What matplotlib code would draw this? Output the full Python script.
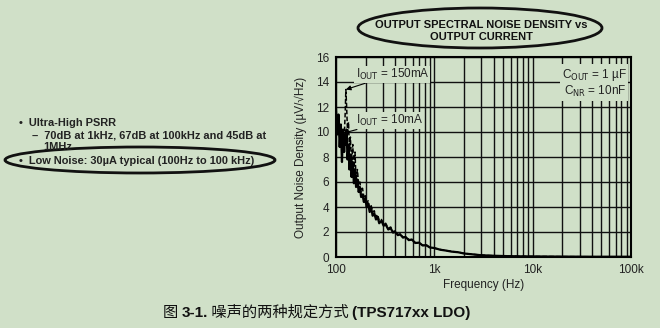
import matplotlib
matplotlib.use("Agg")
import matplotlib.pyplot as plt
from matplotlib.patches import Ellipse
from matplotlib.ticker import NullFormatter, LogLocator

BG = "#d0e0c8"

# noise density curves, µV/√Hz vs Hz
freq = [100, 103, 106, 109, 112, 115, 118, 121, 124, 126,
        128, 131, 134, 137, 140, 144, 148, 152, 156, 160,
        165, 170, 175, 180, 186, 192, 198, 205, 212, 220,
        228, 236, 245, 255, 265, 275, 290, 305, 320, 340,
        360, 380, 400, 425, 450, 480, 510, 550, 590, 640,
        700, 760, 830, 900, 1000, 1150, 1300, 1500, 1750, 2000,
        2400, 3000, 4000, 5500, 8000, 12000, 20000, 40000, 100000]
noise_150mA = [11.2, 10.0, 11.0, 9.6, 10.4, 9.2, 10.0, 9.4, 11.5, 13.4,
               12.2, 10.0, 10.8, 8.6, 9.6, 7.4, 9.0, 6.6, 8.4, 6.2,
               7.0, 5.8, 6.0, 5.2, 5.5, 4.8, 5.0, 4.3, 4.5, 3.9,
               4.1, 3.6, 3.7, 3.2, 3.4, 2.9, 3.0, 2.6, 2.7, 2.3,
               2.4, 2.0, 2.1, 1.8, 1.85, 1.6, 1.6, 1.4, 1.35, 1.15,
               1.1, 0.95, 0.9, 0.78, 0.7, 0.6, 0.52, 0.45, 0.38, 0.3,
               0.22, 0.15, 0.1, 0.07, 0.05, 0.04, 0.03, 0.02, 0.02]
noise_10mA = [11.8, 9.8, 11.4, 8.8, 10.6, 7.6, 10.2, 8.4, 9.8, 9.0,
              10.2, 7.8, 9.0, 7.0, 8.2, 6.4, 7.6, 5.9, 7.0, 5.6,
              6.2, 5.2, 5.6, 4.8, 5.0, 4.4, 4.7, 4.0, 4.3, 3.6,
              3.9, 3.3, 3.5, 3.0, 3.2, 2.7, 2.9, 2.5, 2.6, 2.2,
              2.3, 1.95, 2.0, 1.75, 1.8, 1.55, 1.6, 1.35, 1.4, 1.12,
              1.15, 0.92, 0.95, 0.76, 0.72, 0.58, 0.52, 0.43, 0.38, 0.28,
              0.22, 0.14, 0.1, 0.07, 0.05, 0.04, 0.03, 0.02, 0.02]

xticks = [100, 1000, 10000, 100000]
xticklabels = ["100", "1k", "10k", "100k"]
yticks = [0, 2, 4, 6, 8, 10, 12, 14, 16]

W, H = 660, 328
plt.rcParams['font.family'] = ['Liberation Sans', 'DejaVu Sans']
fig = plt.figure(figsize=(6.6, 3.28), dpi=100, facecolor=BG)

ax = fig.add_axes([336 / W, 1 - 257 / H, 295 / W, 200 / H], facecolor=BG)
ax.plot(freq, noise_10mA, color="black", lw=1.6)
ax.plot(freq, noise_150mA, color="black", lw=1.1, ls=(0, (3, 1.5)))
ax.set_xscale("log")
ax.set_xlim(100, 100000)
ax.set_ylim(0, 16)
ax.set_xticks(xticks)
ax.set_xticklabels(xticklabels)
ax.xaxis.set_minor_locator(LogLocator(base=10, subs=range(2, 10)))
ax.xaxis.set_minor_formatter(NullFormatter())
ax.set_yticks(yticks)
ax.grid(which="both", axis="x", color="#111111", lw=1.0)
ax.grid(which="major", axis="y", color="#111111", lw=1.0)
ax.tick_params(which="both", length=0, labelsize=8.5, colors="#222222", pad=5)
for s in ax.spines.values():
    s.set_linewidth(1.5)
ax.set_xlabel("Frequency (Hz)", fontsize=8.5, labelpad=2, color="#222222")
ax.set_ylabel("Output Noise Density (µV/√Hz)", fontsize=8.5, labelpad=6, color="#222222")

# curve labels
lbl = dict(fontsize=8.5, va="center", color="#222222",
           bbox=dict(boxstyle="square,pad=0.1", fc=BG, ec="none"))
arrow = dict(arrowstyle="-|>", color="black", lw=0.8, mutation_scale=7,
             shrinkA=0, shrinkB=0)
ax.annotate("I$_{\\rm OUT}$ = 150mA", xy=(126, 13.4), xytext=(158, 14.6),
            arrowprops=arrow, **lbl)
ax.annotate("I$_{\\rm OUT}$ = 10mA", xy=(118, 9.9), xytext=(158, 10.9),
            arrowprops=arrow, **lbl)
ax.text(0.985, 0.95, "C$_{\\rm OUT}$ = 1 µF\nC$_{\\rm NR}$ = 10nF",
        transform=ax.transAxes, ha="right", va="top", fontsize=8.5,
        color="#222222", linespacing=1.1,
        bbox=dict(boxstyle="square,pad=0.15", fc=BG, ec="none"))

# chart title inside an ellipse
fig.text(481 / W, 1 - 31 / H, "OUTPUT SPECTRAL NOISE DENSITY vs\nOUTPUT CURRENT",
         ha="center", va="center", fontsize=8, fontweight="bold",
         linespacing=1.25, color="#111111")
fig.patches.append(Ellipse((480 / W, 1 - 28 / H), 244 / W, 40 / H,
                           transform=fig.transFigure, fill=False,
                           ec="#111111", lw=2))

# feature bullets on the left
bullet = dict(fontsize=7.9, fontweight="bold", va="center", color="#222222")
fig.text(19 / W, 1 - 123 / H, "•  Ultra-High PSRR", **bullet)
fig.text(32 / W, 1 - 136 / H, "–  70dB at 1kHz, 67dB at 100kHz and 45dB at", **bullet)
fig.text(43 / W, 1 - 147 / H, "1MHz", **bullet)
fig.text(19 / W, 1 - 161 / H, "•  Low Noise: 30µA typical (100Hz to 100 kHz)", **bullet)
fig.patches.append(Ellipse((140 / W, 1 - 160 / H), 270 / W, 26 / H,
                           transform=fig.transFigure, fill=False,
                           ec="#111111", lw=2))

# caption: Chinese regular, latin parts bold, placed piece by piece
parts = [("图 ", "normal"), ("3-1.", "bold"), (" 噪声的两种规定方式 ", "normal"),
         ("(TPS717xx LDO)", "bold")]
renderer = fig.canvas.get_renderer()
x = 163
for txt, wt in parts:
    fam = ['Noto Sans CJK SC'] if wt == "normal" else ['Liberation Sans', 'Noto Sans CJK SC']
    t = fig.text(x / W, 1 - 317 / H, txt, fontsize=11, fontweight=wt,
                 va="baseline", color="#111111", family=fam)
    x += t.get_window_extent(renderer).width

fig.savefig("out.png", dpi=100, facecolor=BG)
